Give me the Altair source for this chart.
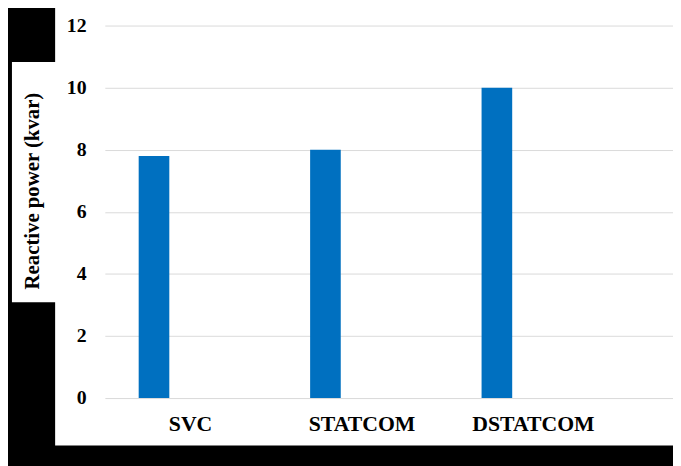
import altair as alt
import pandas as pd

categories = ["SVC", "STATCOM", "DSTATCOM"]
values = [7.8, 8.0, 10.0]
y_ticks = [0, 2, 4, 6, 8, 10, 12]

df = pd.DataFrame({"device": categories, "power": values})

FONT = "Liberation Serif"
BLUE = "#0070C0"

bars = alt.Chart(df).mark_bar(width=31, xOffset=-37, color=BLUE).encode(
    x=alt.X(
        "device:N",
        sort=categories,
        scale=alt.Scale(paddingInner=0, paddingOuter=0.157, align=0),
        axis=alt.Axis(
            title=None, labelAngle=0, domain=False, ticks=False, grid=False,
            labelFont=FONT, labelFontWeight="bold", labelFontSize=22,
            labelColor="black", labelPadding=16,
        ),
    ),
    y=alt.Y(
        "power:Q",
        scale=alt.Scale(domain=[0, 12], nice=False),
        axis=alt.Axis(
            title="Reactive power (kvar)", values=y_ticks, domain=False, ticks=False,
            grid=True, gridColor="#d9d9d9", gridWidth=1,
            labelFont=FONT, labelFontWeight="bold", labelFontSize=20,
            labelColor="black", labelPadding=19,
            titleFont=FONT, titleFontWeight="bold", titleFontSize=21, titleColor="black",
            titleAngle=270, titleX=-67, titleY=167, titleAlign="center",
            titleBaseline="alphabetic",
        ),
    ),
)

# black frame pieces around the white chart panel (decoration only)
frame_data = alt.Data(values=[{}])
def black(x1, x2, y1, y2):
    return alt.Chart(frame_data).mark_rect(color="black").encode(
        x=alt.value(x1), x2=alt.value(x2), y=alt.value(y1), y2=alt.value(y2)
    )

frame = [
    black(-110, -50.3, -30, 37),
    black(-110, -50.3, 280, 460),
    black(-110, -94, 30, 290),
    black(-110, 600, 425, 460),
]

chart = alt.layer(bars, *frame).properties(
    width=575, height=377,
    autosize=alt.AutoSizeParams(type="none"),
    padding={"left": 98, "top": 15, "right": 0, "bottom": 66},
    background="white",
).configure_view(stroke=None)

chart.save("out.html", embed_options={"renderer": "svg", "actions": False})
